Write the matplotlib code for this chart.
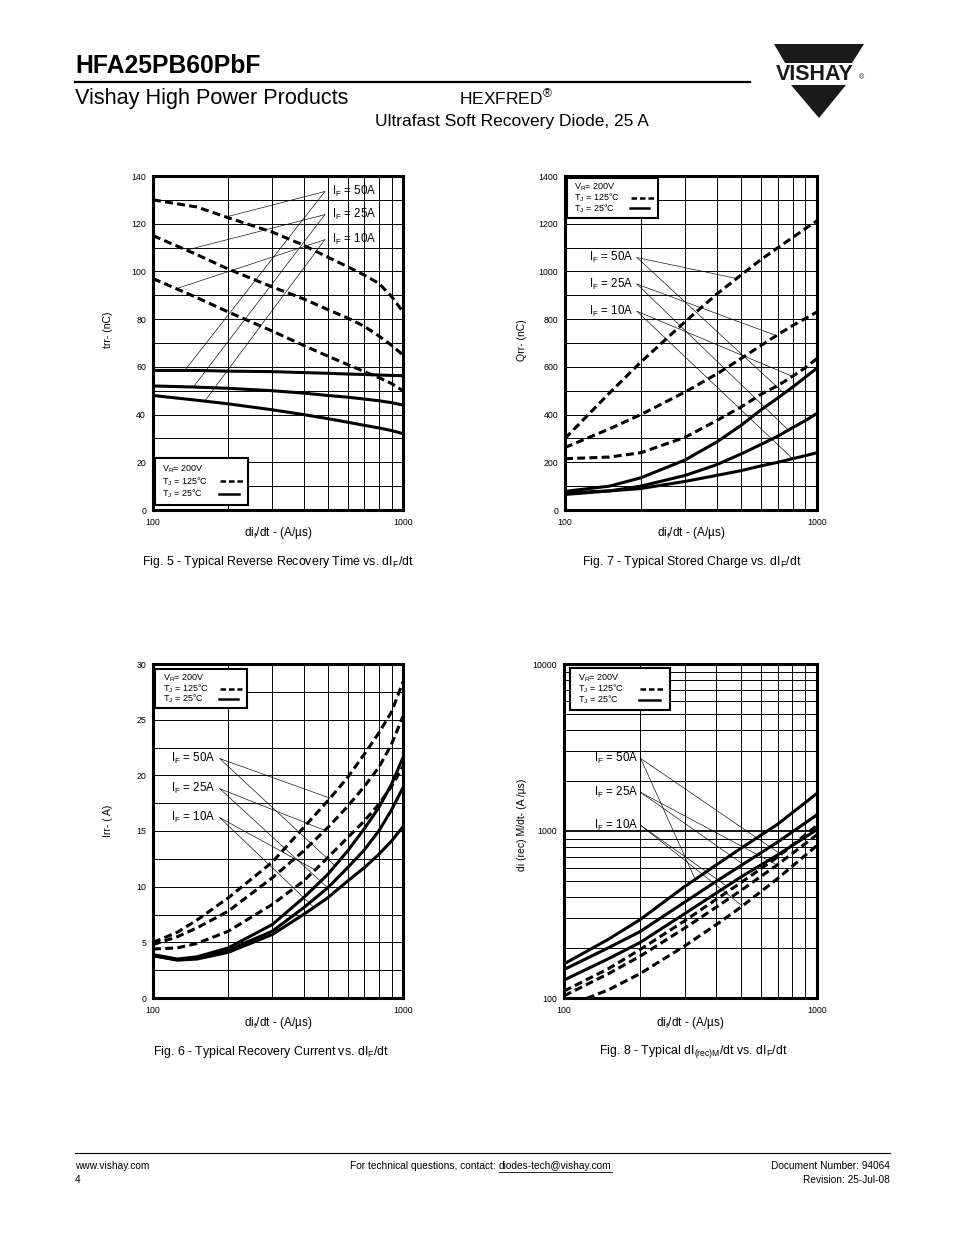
import numpy as np
import matplotlib
matplotlib.use("Agg")
import matplotlib.pyplot as plt
from matplotlib.patches import Polygon, Rectangle
from matplotlib.lines import Line2D
from matplotlib.ticker import NullFormatter

plt.rcParams["font.family"] = ["Liberation Sans", "DejaVu Sans"]
plt.rcParams["mathtext.fontset"] = "custom"
plt.rcParams["mathtext.rm"] = "Liberation Sans"
plt.rcParams["mathtext.it"] = "Liberation Sans:italic"
plt.rcParams["mathtext.bf"] = "Liberation Sans:bold"

W, H = 954, 1235

# Fig. 5 - trr vs dIF/dt (dashed = TJ 125 C, solid = TJ 25 C)
trr_x = [100, 150, 200, 300, 400, 500, 600, 700, 800, 900, 1000]
trr_hot_50 = [130, 127, 122.5, 116.5, 111, 106, 102, 98.5, 95, 89.5, 83]
trr_hot_25 = [115, 107, 101, 93.5, 88.5, 84, 80.5, 77, 73, 69, 65]
trr_hot_10 = [97, 89, 83, 75, 69, 64.5, 61, 58, 55.5, 53, 50]
trr_cold_50 = [58.5, 58.5, 58.2, 58, 57.6, 57.3, 57, 56.8, 56.6, 56.4, 56.3]
trr_cold_25 = [52, 51.5, 51, 50, 49, 48, 47.3, 46.5, 45.8, 45, 44]
trr_cold_10 = [48, 46, 44.5, 42, 40, 38.3, 36.8, 35.5, 34.4, 33.3, 32]

# Fig. 7 - Qrr vs dIF/dt
qrr_x = [100, 150, 200, 300, 400, 500, 600, 700, 800, 900, 1000]
qrr_hot_50 = [300, 490, 620, 790, 905, 985, 1050, 1100, 1142, 1180, 1212]
qrr_hot_25 = [262, 340, 400, 495, 570, 635, 690, 735, 773, 803, 830]
qrr_hot_10 = [215, 222, 240, 305, 375, 432, 485, 522, 560, 597, 635]
qrr_cold_50 = [78, 100, 135, 210, 285, 355, 420, 470, 515, 557, 595]
qrr_cold_25 = [65, 80, 100, 145, 190, 235, 275, 310, 345, 375, 405]
qrr_cold_10 = [72, 80, 90, 120, 145, 165, 185, 200, 215, 228, 240]

# Fig. 6 - Irr vs dIF/dt
irr_x = [100, 125, 150, 200, 300, 400, 500, 600, 700, 800, 900, 1000]
irr_hot_50 = [5.0, 5.9, 7.0, 9.0, 12.2, 15.3, 17.7, 19.8, 21.9, 23.8, 25.7, 28.4]
irr_hot_25 = [4.8, 5.5, 6.3, 7.8, 10.8, 13.2, 15.3, 17.2, 19.0, 20.7, 22.8, 25.3]
irr_hot_10 = [4.4, 4.5, 4.9, 6.0, 8.4, 10.5, 12.6, 14.4, 15.9, 17.4, 19.0, 20.8]
irr_cold_50 = [3.9, 3.5, 3.7, 4.5, 6.6, 9.0, 11.1, 13.2, 15.2, 17.1, 19.2, 21.6]
irr_cold_25 = [3.8, 3.45, 3.6, 4.3, 6.0, 8.1, 9.9, 11.7, 13.3, 15.0, 16.9, 18.9]
irr_cold_10 = [3.8, 3.4, 3.5, 4.1, 5.7, 7.5, 9.0, 10.5, 11.7, 12.9, 14.1, 15.4]

# Fig. 8 - dI(rec)M/dt vs dIF/dt
dir_x = [100, 150, 200, 300, 400, 500, 700, 1000]
dir_hot_50 = [110, 150, 195, 290, 390, 490, 700, 1080]
dir_hot_25 = [103, 140, 178, 262, 350, 440, 630, 950]
dir_hot_10 = [88, 112, 140, 205, 275, 350, 520, 820]
dir_cold_50 = [160, 225, 295, 465, 627, 787, 1100, 1680]
dir_cold_25 = [148, 200, 250, 375, 500, 620, 860, 1250]
dir_cold_10 = [128, 172, 215, 320, 425, 530, 720, 1020]

current_labels = [r"I$_\mathregular{F}$ = 50A", r"I$_\mathregular{F}$ = 25A",
                  r"I$_\mathregular{F}$ = 10A"]

fig = plt.figure(figsize=(W / 100, H / 100), dpi=100)


def fx(x):
    return x / W


def fy(y):
    return 1 - y / H


def ftext(x, y, s, **kw):
    return fig.text(fx(x), fy(y), s, **kw)


def make_panel(x0, y0, x1, y1, ylim, major_y, minor_y, log_y=False):
    ax = fig.add_axes([fx(x0), fy(y1), (x1 - x0) / W, (y1 - y0) / H])
    ax.set_xscale("log")
    if log_y:
        ax.set_yscale("log")
    ax.set_xlim(100, 1000)
    ax.set_ylim(*ylim)
    ax.set_xticks([100, 1000])
    ax.set_xticklabels(["100", "1000"])
    ax.set_xticks(list(range(200, 1000, 100)), minor=True)
    ax.xaxis.set_minor_formatter(NullFormatter())
    ax.set_yticks(major_y)
    ax.set_yticklabels([str(v) for v in major_y])
    ax.set_yticks(minor_y, minor=True)
    ax.yaxis.set_minor_formatter(NullFormatter())
    ax.tick_params(which="both", length=0, labelsize=6.3)
    ax.tick_params(axis="x", pad=6)
    ax.tick_params(axis="y", pad=5)
    ax.grid(which="both", color="black", lw=0.7)
    if log_y:
        ax.grid(which="major", axis="y", color="black", lw=1.3)
    ax.set_axisbelow(True)
    for s in ax.spines.values():
        s.set_linewidth(2.2)
    return ax


def draw_curves(ax, x, hot, cold):
    for y in hot:
        ax.plot(x, y, color="black", lw=2.2, dashes=(2.6, 1.4), zorder=3)
    for y in cold:
        ax.plot(x, y, color="black", lw=2.2, zorder=3)


def curve_at(x, y, xe, log_y):
    lx = np.log10(x)
    if log_y:
        return 10 ** np.interp(np.log10(xe), lx, np.log10(y))
    return np.interp(np.log10(xe), lx, y)


def leaders(ax, x, hot, cold, text_y, ends, line_x, text_x, ha, log_y=False):
    for lab, ty, (xd, xs), yh, yc in zip(current_labels, text_y, ends, hot, cold):
        for xe, yy in ((xd, yh), (xs, yc)):
            ax.plot([line_x, xe], [ty, curve_at(x, yy, xe, log_y)],
                    color="black", lw=0.45, zorder=4)
        ax.text(text_x, ty, lab, ha=ha, va="center", fontsize=8.3, zorder=5)


def legend_box(ax, x0, y0, x1, y1):
    w, h = x1 - x0, y1 - y0
    ax.add_patch(Rectangle((x0, y0), w, h, transform=ax.transAxes,
                           facecolor="white", edgecolor="black", lw=1.5,
                           zorder=6, clip_on=False))
    rows = [(r"V$_\mathregular{R}$= 200V", None, None),
            (r"T$_\mathregular{J}$ = 125°C", (0.70, 0.95), (0, (2.2, 1.2))),
            (r"T$_\mathregular{J}$ = 25°C", (0.69, 0.90), "-")]
    for i, (t, span, ls) in enumerate(rows):
        yy = y1 - h * (0.24 + 0.26 * i)
        ax.text(x0 + 0.08 * w, yy, t, transform=ax.transAxes, fontsize=6.5,
                va="center", zorder=7)
        if span:
            ax.add_line(Line2D([x0 + span[0] * w, x0 + span[1] * w], [yy, yy],
                               transform=ax.transAxes, color="black", lw=1.8,
                               linestyle=ls, zorder=7))


xlab = r"di$_\mathregular{f}$/dt - (A/µs)"

# ---- Fig. 5 ----
ax5 = make_panel(153, 176, 403, 510, (0, 140), list(range(0, 141, 20)),
                 list(range(10, 140, 20)))
hot5 = [trr_hot_50, trr_hot_25, trr_hot_10]
cold5 = [trr_cold_50, trr_cold_25, trr_cold_10]
draw_curves(ax5, trr_x, hot5, cold5)
leaders(ax5, trr_x, hot5, cold5, [133.5, 123.8, 113.3],
        [(196, 134), (136, 145), (124, 161)], 487, 520, "left")
legend_box(ax5, 0.008, 0.015, 0.38, 0.156)
ax5.text(0.5, -0.068, xlab, transform=ax5.transAxes, ha="center", va="center",
         fontsize=8.5)
ax5.text(-0.18, 0.54, "trr- (nC)", transform=ax5.transAxes, rotation=90,
         ha="center", va="center", fontsize=7.5)

# ---- Fig. 7 ----
ax7 = make_panel(565, 176, 817, 510, (0, 1400), list(range(0, 1401, 200)),
                 list(range(100, 1400, 200)))
hot7 = [qrr_hot_50, qrr_hot_25, qrr_hot_10]
cold7 = [qrr_cold_50, qrr_cold_25, qrr_cold_10]
draw_curves(ax7, qrr_x, hot7, cold7)
leaders(ax7, qrr_x, hot7, cold7, [1058, 947, 833],
        [(480, 740), (690, 770), (800, 800)], 193, 186, "right")
legend_box(ax7, 0.008, 0.874, 0.37, 0.994)
ax7.text(0.5, -0.068, xlab, transform=ax7.transAxes, ha="center", va="center",
         fontsize=8.5)
ax7.text(-0.17, 0.51, "Qrr- (nC)", transform=ax7.transAxes, rotation=90,
         ha="center", va="center", fontsize=7.5)

# ---- Fig. 6 ----
ax6 = make_panel(153, 664, 403, 998, (0, 30), [0, 5, 10, 15, 20, 25, 30],
                 [2.5, 7.5, 12.5, 17.5, 22.5, 27.5])
hot6 = [irr_hot_50, irr_hot_25, irr_hot_10]
cold6 = [irr_cold_50, irr_cold_25, irr_cold_10]
draw_curves(ax6, irr_x, hot6, cold6)
leaders(ax6, irr_x, hot6, cold6, [21.5, 18.8, 16.2],
        [(511, 535), (487, 500), (445, 440)], 185, 178, "right")
legend_box(ax6, 0.01, 0.868, 0.376, 0.985)
ax6.text(0.5, -0.075, xlab, transform=ax6.transAxes, ha="center", va="center",
         fontsize=8.5)
ax6.text(-0.18, 0.53, "Irr- ( A)", transform=ax6.transAxes, rotation=90,
         ha="center", va="center", fontsize=7.5)

# ---- Fig. 8 ----
minor8 = [m * d for d in (100, 1000) for m in range(2, 10)]
ax8 = make_panel(564, 664, 817, 998, (100, 10000), [100, 1000, 10000], minor8,
                 log_y=True)
hot8 = [dir_hot_50, dir_hot_25, dir_hot_10]
cold8 = [dir_cold_50, dir_cold_25, dir_cold_10]
draw_curves(ax8, dir_x, hot8, cold8)
leaders(ax8, dir_x, hot8, cold8, [2717, 1702, 1081],
        [(720, 330), (695, 510), (507, 440)], 201, 196, "right", log_y=True)
legend_box(ax8, 0.024, 0.862, 0.42, 0.988)
ax8.text(0.5, -0.075, xlab, transform=ax8.transAxes, ha="center", va="center",
         fontsize=8.5)
ax8.text(-0.166, 0.52, "di (rec) M/dt- (A /µs)", transform=ax8.transAxes,
         rotation=90, ha="center", va="center", fontsize=7.5)

# ---- captions ----
cap = dict(ha="center", va="center", fontsize=8.9)
ftext(278, 562, r"Fig. 5 - Typical Reverse Recovery Time vs. dI$_\mathregular{F}$/dt", **cap)
ftext(692, 562, r"Fig. 7 - Typical Stored Charge vs. dI$_\mathregular{F}$/dt", **cap)
ftext(271, 1052, r"Fig. 6 - Typical Recovery Current vs. dI$_\mathregular{F}$/dt", **cap)
ftext(693, 1052, r"Fig. 8 - Typical dI$_\mathregular{(rec)M}$/dt vs. dI$_\mathregular{F}$/dt", **cap)

# ---- header ----
ftext(75, 73, "HFA25PB60PbF", fontsize=17.8, fontweight="bold", va="baseline")
fig.add_artist(Line2D([fx(75), fx(750)], [fy(82), fy(82)], color="black", lw=1.6))
ftext(75, 104, "Vishay High Power Products", fontsize=15.6, va="baseline")
ftext(506, 104, r"HEXFRED$^\mathregular{®}$", fontsize=12.5, va="baseline", ha="center")
ftext(512, 126, "Ultrafast Soft Recovery Diode, 25 A", fontsize=12.5,
      va="baseline", ha="center")

# Vishay logo
fig.add_artist(Polygon([(fx(774), fy(44)), (fx(864), fy(44)), (fx(852), fy(63)),
                        (fx(785), fy(63))], closed=True, transform=fig.transFigure,
                       facecolor="#1a1a1a", edgecolor="none"))
fig.add_artist(Polygon([(fx(791), fy(85)), (fx(846), fy(85)), (fx(819), fy(118))],
                       closed=True, transform=fig.transFigure,
                       facecolor="#1a1a1a", edgecolor="none"))
ftext(815, 74, "VISHAY", fontsize=15.5, fontweight="bold", ha="center",
      va="center", color="#1a1a1a")
ftext(862, 78, "®", fontsize=5, ha="center", va="center", color="#1a1a1a")

# ---- footer ----
fig.add_artist(Line2D([fx(75), fx(890)], [fy(1153), fy(1153)], color="black", lw=0.8))
foot = dict(fontsize=7.3, va="center")
ftext(75, 1166, "www.vishay.com", **foot)
ftext(75, 1180, "4", **foot)
ftext(499, 1166, "For technical questions, contact: ", ha="right", **foot)
email = ftext(499, 1166, "diodes-tech@vishay.com", ha="left", **foot)
ftext(890, 1166, "Document Number: 94064", ha="right", **foot)
ftext(890, 1180, "Revision: 25-Jul-08", ha="right", **foot)

fig.canvas.draw()
bb = email.get_window_extent()
fig.add_artist(Line2D([bb.x0 / W, bb.x1 / W], [(bb.y0 - 0.5) / H] * 2,
                      color="black", lw=0.6))

fig.savefig("out.png", dpi=100, facecolor="white")
